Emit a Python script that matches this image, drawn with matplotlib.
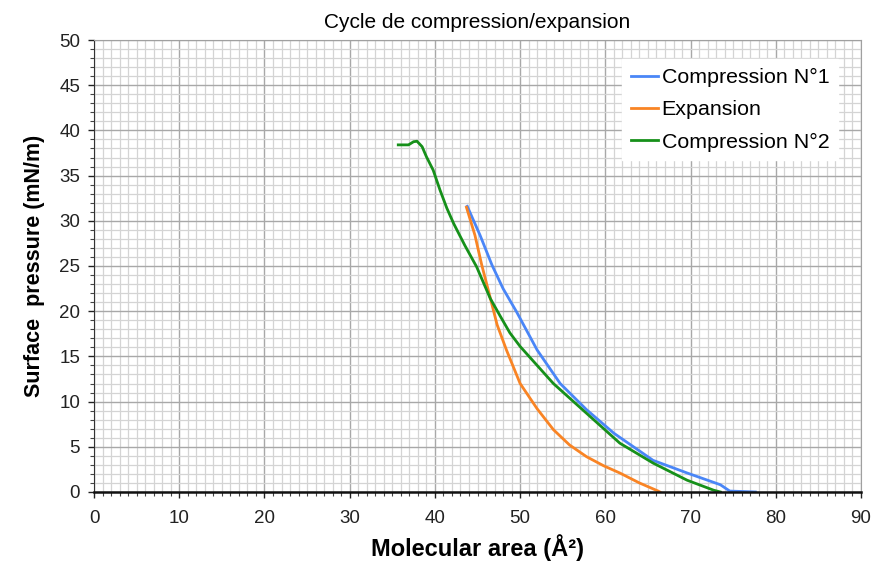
import matplotlib
matplotlib.use("Agg")
import matplotlib.pyplot as plt
from matplotlib.ticker import MultipleLocator

plt.rcParams["font.family"] = ["Liberation Sans", "DejaVu Sans"]

# Isotherm cycle, molecular area (A^2) vs surface pressure (mN/m)
comp1_area = [43.8, 45.3, 46.7, 48.0, 49.6, 50.4, 52.0, 54.7, 57.8,
              61.0, 65.6, 69.6, 73.5, 74.6, 77.6]
comp1_pres = [31.6, 28.4, 25.1, 22.5, 19.9, 18.5, 15.7, 12.0, 9.1,
              6.5, 3.5, 2.1, 0.8, 0.1, 0.0]

exp_area = [43.7, 44.7, 45.5, 46.3, 47.3, 48.4, 50.0, 52.0, 53.9,
            55.8, 57.8, 59.8, 61.7, 64.0, 66.2, 66.4]
exp_pres = [31.5, 28.4, 25.1, 22.2, 18.5, 15.7, 12.0, 9.2, 6.9,
            5.2, 3.9, 2.9, 2.1, 1.0, 0.1, 0.0]

comp2_area = [35.7, 36.9, 37.5, 37.9, 38.5, 39.0, 39.8, 40.6, 41.4,
              42.2, 43.5, 44.9, 46.5, 47.7, 48.8, 50.0, 53.9, 57.8,
              61.7, 65.6, 69.6, 72.7, 73.5]
comp2_pres = [38.4, 38.4, 38.75, 38.8, 38.2, 37.1, 35.6, 33.4, 31.4,
              29.7, 27.3, 24.9, 21.4, 19.4, 17.6, 16.1, 12.0, 8.7,
              5.4, 3.2, 1.3, 0.2, 0.0]

fig = plt.figure(figsize=(8.74, 5.62), dpi=100)
ax = fig.add_axes([0.1076, 0.1246, 0.8775, 0.8042])

ax.plot(comp1_area, comp1_pres, color="#4a86f7", lw=2.0, label="Compression N°1")
ax.plot(exp_area, exp_pres, color="#f98424", lw=2.0, label="Expansion")
ax.plot(comp2_area, comp2_pres, color="#16901a", lw=2.0, label="Compression N°2")

ax.set_xlim(0, 90)
ax.set_ylim(0, 50)
ax.xaxis.set_major_locator(MultipleLocator(10))
ax.xaxis.set_minor_locator(MultipleLocator(1))
ax.yaxis.set_major_locator(MultipleLocator(5))
ax.yaxis.set_minor_locator(MultipleLocator(1))

ax.grid(which="minor", color="#d4d4d4", lw=0.9)
ax.grid(which="major", color="#a8a8a8", lw=1.0)
ax.set_axisbelow(True)

ax.tick_params(which="major", direction="out", length=4, width=1.0,
               labelsize=13.5, colors="#222222")
ax.tick_params(axis="x", which="major", pad=9)
ax.tick_params(axis="y", which="major", pad=6)
ax.tick_params(which="minor", direction="out", length=3, width=0.8,
               colors="#444444")

for side in ("top", "right"):
    ax.spines[side].set_color("#a0a0a0")
ax.spines["left"].set_color("#333333")
ax.spines["bottom"].set_color("#111111")
ax.spines["bottom"].set_linewidth(1.8)

ax.set_title("Cycle de compression/expansion", fontsize=15, pad=9)
ax.set_xlabel("Molecular area (Å²)", fontsize=17, fontweight="bold", labelpad=5)
ax.set_ylabel("Surface  pressure (mN/m)", fontsize=15.5, fontweight="bold", labelpad=10)

leg = ax.legend(loc="upper right", fontsize=15.4, frameon=True, fancybox=False,
                edgecolor="white", framealpha=1.0, handlelength=1.3,
                handletextpad=0.15, borderpad=0.4, labelspacing=0.62,
                borderaxespad=0.0, bbox_to_anchor=(0.97, 0.957))

fig.savefig("out.png", dpi=100)
